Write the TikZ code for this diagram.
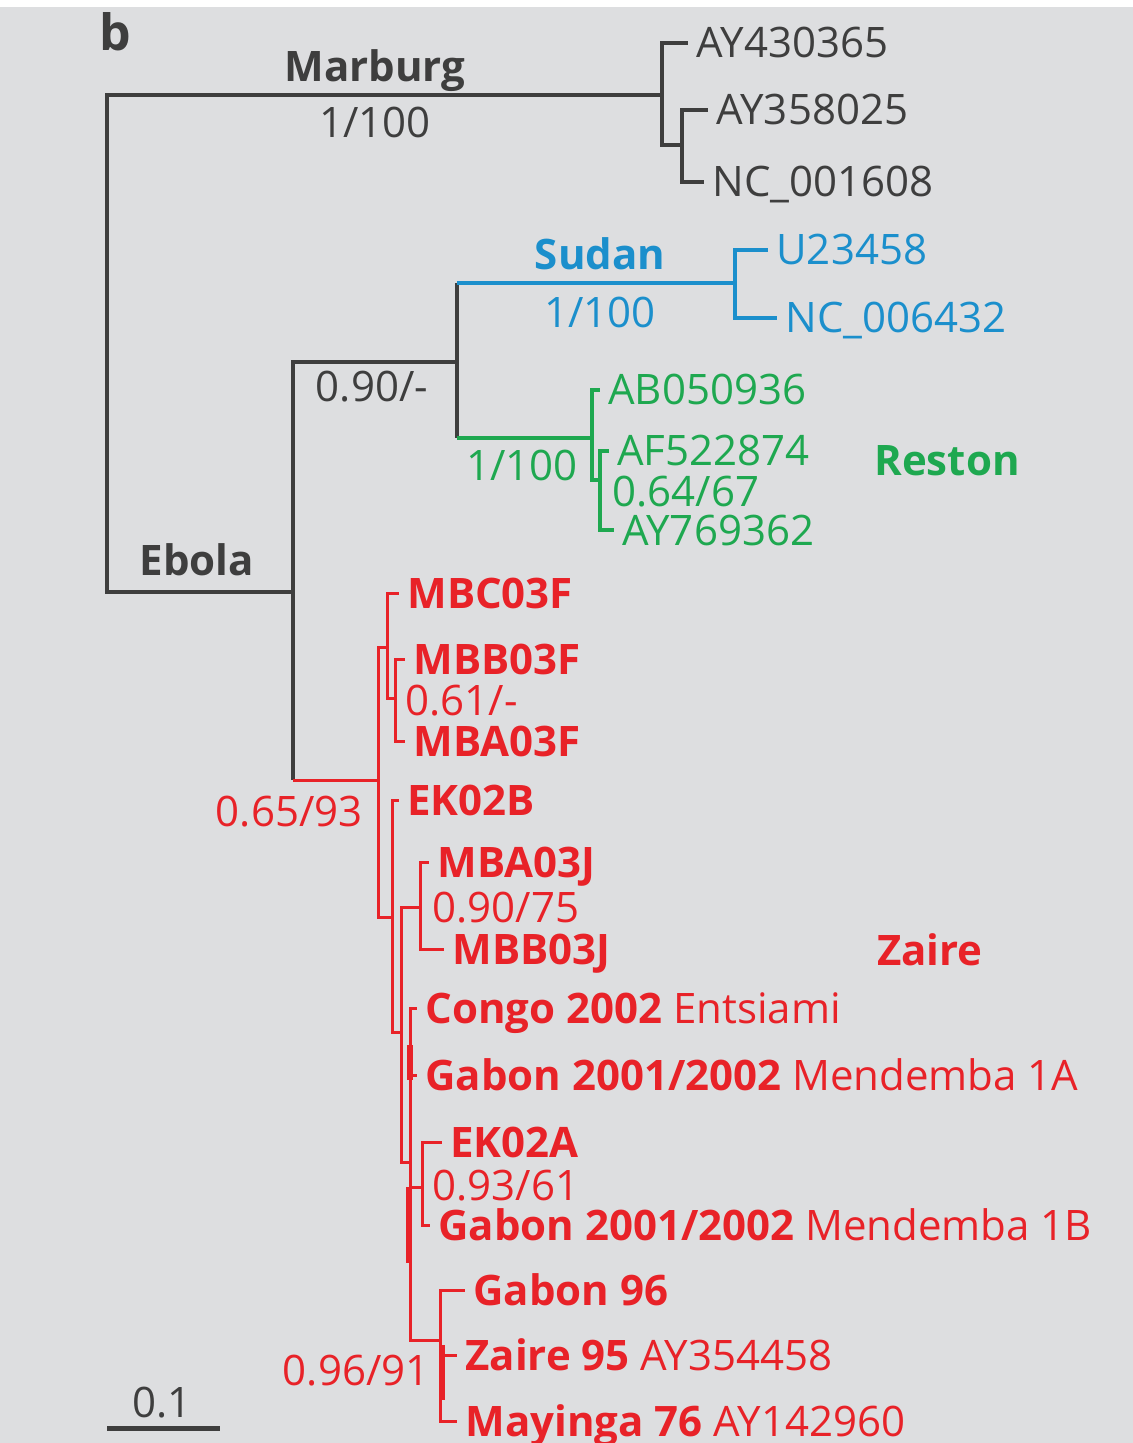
\documentclass[tikz,border=0pt]{standalone}
\usepackage{fontspec}
\setmainfont{Open Sans}
\usetikzlibrary{positioning, calc}
\definecolor{bgcolor}{RGB}{221,222,224}
\definecolor{marcolor}{RGB}{62,62,62}
\definecolor{sudcolor}{RGB}{27,143,204}
\definecolor{rescolor}{RGB}{30,168,80}
\definecolor{zaicolor}{RGB}{232,34,40}

\begin{document}
\begin{tikzpicture}[x=0.5pt, y=-0.5pt,
    every node/.style={font=\fontsize{21}{24}\selectfont, inner sep=0pt, text height=15pt, text depth=0pt},
    leaf/.style={anchor=west, inner xsep=4pt},
    dk/.style={draw=marcolor, line width=1.8pt},
    sdn/.style={draw=sudcolor, line width=1.6pt},
    rst/.style={draw=rescolor, line width=1.6pt},
    zr/.style={draw=zaicolor, line width=1.5pt},
    zrthick/.style={draw=zaicolor, line width=2.9pt}]
    \useasboundingbox (0,0) rectangle (1133,1443);
    \fill[white] (0,0) rectangle (1133,1443);
    \fill[bgcolor] (0,7) rectangle (1133,1443);

    % internal nodes
    \coordinate (root) at (107,343);
    \coordinate (marb) at (662,95);
    \coordinate (m2) at (682,145);
    \coordinate (ebo) at (293,592);
    \coordinate (se) at (457,362);
    \coordinate (sud) at (735,283);
    \coordinate (res) at (592,438);
    \coordinate (rs2) at (600,480);
    \coordinate (zr0) at (378,780);
    \coordinate (zf) at (387,647);
    \coordinate (zf2) at (395,698);
    \coordinate (zg) at (392,917);
    \coordinate (zh) at (401,1032);
    \coordinate (zj) at (420,907);
    \coordinate (zk) at (410,1162);
    \coordinate (zl) at (422,1187);
    \coordinate (zm) at (440,1340);

    % leaves
    \node[leaf, text=marcolor] (ay430) at (688,43) {AY430365};
    \node[leaf, text=marcolor] (ay358) at (708,110) {AY358025};
    \node[leaf, text=marcolor] (nc0016) at (704,182) {NC\_001608};
    \node[leaf, text=sudcolor] (u234) at (768,250) {U23458};
    \node[leaf, text=sudcolor] (nc0064) at (777,318) {NC\_006432};
    \node[leaf, text=rescolor] (ab050) at (600,390) {AB050936};
    \node[leaf, text=rescolor] (af522) at (609,451) {AF522874};
    \node[leaf, text=rescolor] (ay769) at (614,530) {AY769362};
    \node[leaf, text=zaicolor] (mbc03f) at (399,593) {\textbf{MBC03F}};
    \node[leaf, text=zaicolor] (mbb03f) at (405,659) {\textbf{MBB03F}};
    \node[leaf, text=zaicolor] (mba03f) at (405,741) {\textbf{MBA03F}};
    \node[leaf, text=zaicolor] (ek02b) at (399,800) {\textbf{EK02B}};
    \node[leaf, text=zaicolor] (mba03j) at (429,862) {\textbf{MBA03J}};
    \node[leaf, text=zaicolor] (mbb03j) at (444,949) {\textbf{MBB03J}};
    \node[leaf, text=zaicolor] (congo) at (417,1008) {\textbf{Congo 2002} Entsiami};
    \node[leaf, text=zaicolor] (gab1a) at (417,1075) {\textbf{Gabon 2001/2002} Mendemba 1A};
    \node[leaf, text=zaicolor] (ek02a) at (442,1142) {\textbf{EK02A}};
    \node[leaf, text=zaicolor] (gab1b) at (430,1225) {\textbf{Gabon 2001/2002} Mendemba 1B};
    \node[leaf, text=zaicolor] (gab96) at (465,1290) {\textbf{Gabon 96}};
    \node[leaf, text=zaicolor] (z95) at (457,1355) {\textbf{Zaire 95} AY354458};
    \node[leaf, text=zaicolor] (may76) at (457,1421) {\textbf{Mayinga 76} AY142960};

    % branches
    \draw[dk] (marb) -| (root) |- (ebo);
    \draw[dk] (marb) |- (ay430);
    \draw[dk] (marb) |- (m2);
    \draw[dk] (m2) |- (ay358);
    \draw[dk] (m2) |- (nc0016);
    \draw[dk] (ebo) |- (se);
    \draw[dk] (se |- sud) -- (se |- res);
    \draw[sdn] (se |- sud) -- (sud);
    \draw[sdn] (sud) |- (u234);
    \draw[sdn] (sud) |- (nc0064);
    \draw[rst] (se |- res) -- (res);
    \draw[rst] (res) |- (ab050);
    \draw[rst] (res) |- (rs2);
    \draw[rst] (rs2) |- (af522);
    \draw[rst] (rs2) |- (ay769);
    \draw[dk] (ebo) -- (ebo |- zr0);
    \draw[zr] (ebo |- zr0) -- (zr0);
    \draw[zr] (zr0) |- (zf);
    \draw[zr] (zr0) |- (zg);
    \draw[zr] (zf) |- (mbc03f);
    \draw[zr] (zf) |- (zf2);
    \draw[zr] (zf2) |- (mbb03f);
    \draw[zr] (zf2) |- (mba03f);
    \draw[zr] (zg) |- (ek02b);
    \draw[zr] (zg) |- (zh);
    \draw[zr] (zh) |- (zj);
    \draw[zr] (zh) |- (zk);
    \draw[zr] (zj) |- (mba03j);
    \draw[zr] (zj) |- (mbb03j);
    \draw[zr] (zk) |- (congo);
    \draw[zr] (zk) |- (gab1a);
    \draw[zr] (zk) |- (zl);
    \draw[zr] (zk) |- (zm);
    \draw[zr] (zl) |- (ek02a);
    \draw[zr] (zl) |- (gab1b);
    \draw[zr] (zm) |- (gab96);
    \draw[zr] (zm) |- (z95);
    \draw[zr] (zm) |- (may76);
    \draw[zrthick] (410,1045) -- (410,1080);
    \draw[zrthick] (409,1187) -- (409,1263);
    \draw[zrthick] (442,1345) -- (442,1400);

    % clade names and support values
    \node[text=marcolor, font=\fontsize{25}{28}\selectfont] (lblb) at (115,36) {\textbf{b}};
    \node[text=marcolor] (lblmar) at (375,67) {\textbf{Marburg}};
    \node[text=marcolor] (supmar) at (375,123) {1/100};
    \node[text=marcolor] (lblebo) at (197,560) {\textbf{Ebola}};
    \node[text=marcolor] (supse) at (372,386) {0.90/-};
    \node[text=sudcolor] (lblsud) at (600,255) {\textbf{Sudan}};
    \node[text=sudcolor] (supsud) at (600,313) {1/100};
    \node[text=rescolor] (lblres) at (947,460) {\textbf{Reston}};
    \node[text=rescolor] (supres) at (522,465) {1/100};
    \node[text=rescolor, anchor=west] (suprs2) at (612,491) {0.64/67};
    \node[text=zaicolor] (lblzai) at (930,950) {\textbf{Zaire}};
    \node[text=zaicolor, anchor=east] (supzr0) at (363,811) {0.65/93};
    \node[text=zaicolor, anchor=west] (supzf2) at (405,700) {0.61/-};
    \node[text=zaicolor, anchor=west] (supzj) at (432,907) {0.90/75};
    \node[text=zaicolor, anchor=west] (supzl) at (432,1185) {0.93/61};
    \node[text=zaicolor, anchor=east] (supzm) at (430,1370) {0.96/91};

    % scale bar
    \coordinate (sbl) at (107,1428);
    \coordinate (sbr) at (220,1428);
    \draw[marcolor, line width=2.5pt] (sbl) -- (sbr);
    \node[text=marcolor] (sblbl) at (162,1402) {0.1};
\end{tikzpicture}
\end{document}
